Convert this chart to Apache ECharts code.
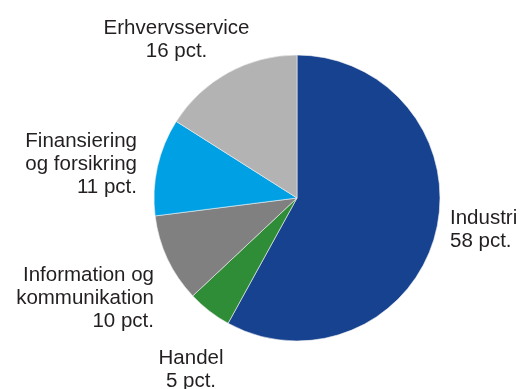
<!DOCTYPE html>
<html>
<head>
<meta charset="utf-8">
<style>html,body{margin:0;padding:0;background:#fff;}#c{width:521px;height:389px;}</style>
<script src="https://cdn.jsdelivr.net/npm/echarts@6/dist/echarts.min.js"></script>
</head>
<body>
<div id="c"></div>
<script>
const categories = ["Industri", "Handel", "Information og\nkommunikation", "Finansiering\nog forsikring", "Erhvervsservice"];
const values = [58, 5, 10, 11, 16];
const colors = ["#17428F", "#2F8D38", "#808080", "#00A1E4", "#B3B3B3"];

const labelPlace = [
  {x: 450, y: 230, align: "left"},
  {x: 191, y: 370, align: "center"},
  {x: 154, y: 298.5, align: "right"},
  {x: 137, y: 164, align: "right"},
  {x: 176.5, y: 39.5, align: "center"}
];

const chart = echarts.init(document.getElementById("c"));
chart.setOption({
  animation: false,
  backgroundColor: "#fff",
  series: [{
    type: "pie",
    center: [297, 198],
    radius: 143,
    startAngle: 90,
    clockwise: true,
    avoidLabelOverlap: false,
    data: categories.map((n, i) => ({name: n, value: values[i], itemStyle: {color: colors[i]}})),
    itemStyle: {borderColor: "#f2f2f2", borderWidth: 0.6},
    label: {
      show: true,
      position: "outside",
      formatter: p => p.name + "\n" + p.value + " pct.",
      fontFamily: "Liberation Sans, Arial, sans-serif",
      fontSize: 20.5,
      lineHeight: 23,
      color: "#231f20"
    },
    labelLine: {show: false},
    labelLayout: params => {
      const p = labelPlace[params.dataIndex];
      return {x: p.x, y: p.y, align: p.align, verticalAlign: "middle"};
    },
    emphasis: {disabled: true}
  }]
});
</script>
</body>
</html>
